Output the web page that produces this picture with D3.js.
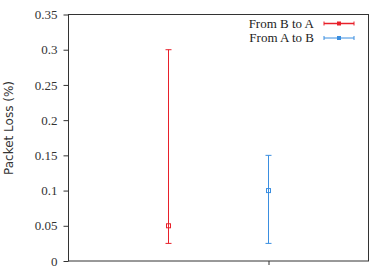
<!DOCTYPE html>
<html>
<head>
<meta charset="utf-8">
<script src="https://cdn.jsdelivr.net/npm/d3@7"></script>
<style>
  body { margin: 0; background: #fff; }
  svg { display: block; }
</style>
</head>
<body>
<svg id="chart" width="373" height="268"></svg>
<script>
// Series data
const seriesNames = ['From B to A', 'From A to B'];
const seriesColors = ['#e8202a', '#3a8ee0'];
const xPositions = [1, 2];
const centers = [0.05, 0.1];
const lows = [0.025, 0.025];
const highs = [0.3, 0.15];
const yTicks = [0, 0.05, 0.1, 0.15, 0.2, 0.25, 0.3, 0.35];
const yTickLabels = ['0', '0.05', '0.1', '0.15', '0.2', '0.25', '0.3', '0.35'];

const serifFont = "'Liberation Serif', 'Times New Roman', 'DejaVu Serif', serif";

const data = seriesNames.map((name, i) => ({
    name, color: seriesColors[i], x: xPositions[i], y: centers[i], lo: lows[i], hi: highs[i]
}));

// Plot box
const plotLeft = 68.5, plotRight = 368.5, plotTop = 14.5, plotBottom = 261;
const svg = d3.select('#chart');

const x = d3.scaleLinear().domain([0, 3]).range([plotLeft, plotRight]);
const y = d3.scaleLinear().domain([0, 0.35]).range([plotBottom, plotTop]);

// Y axis ticks and labels
const yAxis = svg.append('g').attr('transform', `translate(${plotLeft},0)`)
    .call(d3.axisLeft(y).tickValues(yTicks).tickSize(5)
        .tickFormat((d, i) => yTickLabels[i]));
yAxis.select('.domain').remove();
yAxis.selectAll('line').attr('stroke', '#333');
yAxis.selectAll('text')
    .style('font-family', serifFont)
    .style('font-size', '13px')
    .attr('fill', '#333')
    .attr('x', -11);

// X axis tick (only one tick shown)
const xAxis = svg.append('g').attr('transform', `translate(0,${plotBottom})`)
    .call(d3.axisBottom(x).tickValues([2]).tickSize(4).tickFormat(''));
xAxis.select('.domain').remove();
xAxis.selectAll('line').attr('stroke', '#333');

// Frame
svg.append('rect')
    .attr('x', plotLeft).attr('y', plotTop)
    .attr('width', plotRight - plotLeft).attr('height', plotBottom - plotTop)
    .attr('fill', 'none').attr('stroke', '#333').attr('stroke-width', 1);

// Y label
svg.append('text')
    .attr('transform', `translate(13,128) rotate(-90)`)
    .attr('text-anchor', 'middle')
    .style('font-family', "'DejaVu Sans', sans-serif")
    .style('font-size', '12px')
    .attr('fill', '#333')
    .text('Packet Loss (%)');

// Error bars
const capW = 3;
const bars = svg.append('g').selectAll('g').data(data).join('g');
bars.append('line')
    .attr('x1', d => x(d.x)).attr('x2', d => x(d.x))
    .attr('y1', d => y(d.lo)).attr('y2', d => y(d.hi))
    .attr('stroke', d => d.color).attr('stroke-width', 1);
bars.append('line')
    .attr('x1', d => x(d.x) - capW).attr('x2', d => x(d.x) + capW)
    .attr('y1', d => y(d.lo)).attr('y2', d => y(d.lo))
    .attr('stroke', d => d.color);
bars.append('line')
    .attr('x1', d => x(d.x) - capW).attr('x2', d => x(d.x) + capW)
    .attr('y1', d => y(d.hi)).attr('y2', d => y(d.hi))
    .attr('stroke', d => d.color);
bars.append('rect')
    .attr('x', d => x(d.x) - 2).attr('y', d => y(d.y) - 2)
    .attr('width', 4).attr('height', 4)
    .attr('fill', 'none').attr('stroke', d => d.color);

// Legend
const legend = svg.append('g').selectAll('g').data(data).join('g')
    .attr('transform', (d, i) => `translate(0,${23.5 + i * 14.5})`);
legend.append('text')
    .attr('x', 314).attr('y', 0).attr('dy', '0.32em')
    .attr('text-anchor', 'end')
    .style('font-family', serifFont)
    .style('font-size', '13px')
    .attr('fill', '#222')
    .text(d => d.name);
legend.append('line')
    .attr('x1', 324).attr('x2', 354).attr('y1', 0).attr('y2', 0)
    .attr('stroke', d => d.color).attr('stroke-width', (d, i) => i === 0 ? 1.5 : 1);
legend.selectAll('.cap').data(d => [324, 354].map(v => ({ v, c: d.color }))).join('line')
    .attr('x1', d => d.v).attr('x2', d => d.v).attr('y1', -2).attr('y2', 2)
    .attr('stroke', d => d.c);
legend.append('rect')
    .attr('x', 337).attr('y', -2).attr('width', 4).attr('height', 4)
    .attr('fill', d => d.color);
</script>
</body>
</html>
